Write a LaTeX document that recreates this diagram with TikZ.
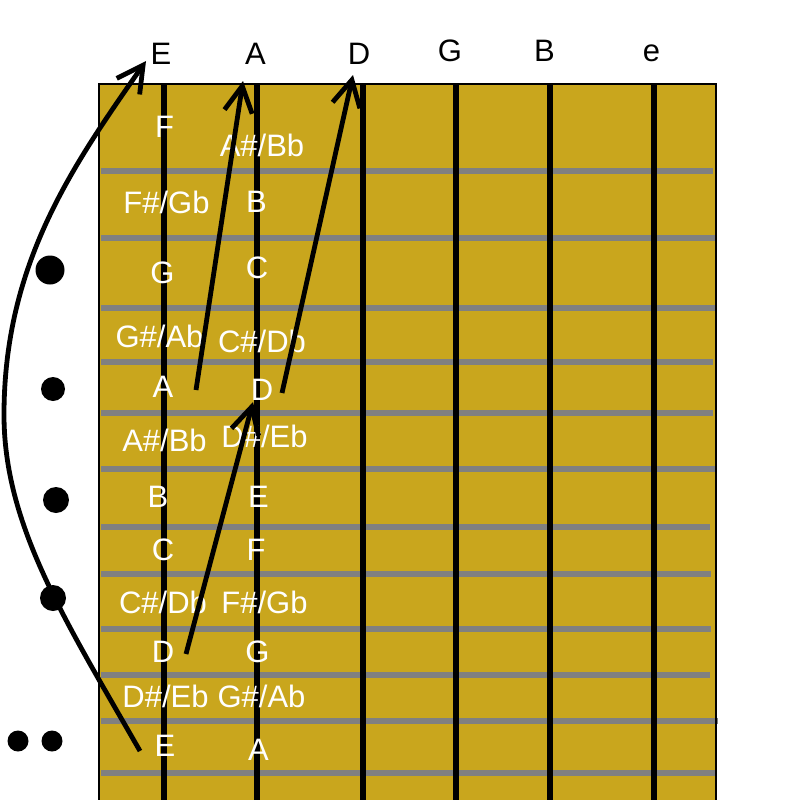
\documentclass[tikz,border=0pt]{standalone}
\usepackage{fontspec}
\setmainfont{Liberation Sans}
\usetikzlibrary{positioning,arrows.meta}

\definecolor{fretboard}{RGB}{201,166,29}
\definecolor{fretgray}{RGB}{128,128,128}

\begin{document}
\begin{tikzpicture}[
  x=1pt, y=-1pt,
  note/.style={text=white, anchor=base, inner sep=0pt, font=\fontsize{31}{31}\selectfont},
  open/.style={text=black, anchor=base, inner sep=0pt, font=\fontsize{31}{31}\selectfont},
  marker/.style={circle, fill=black, inner sep=0pt},
  fret/.style={draw=fretgray, line width=5.5pt},
  strg/.style={draw=black, line width=6pt},
  move/.style={draw=black, line width=4.8pt, -{Straight Barb[length=26pt,width=28pt]}}
]
\useasboundingbox (0,0) rectangle (800,800);

% board
\fill[fretboard] (99,84) rectangle (716,800);
\foreach \y/\xe in {171/713,238/716,308/716,362/713,413/713,469/716,527/710,574/711,629/711,675/710,721/718,773/716}
  \draw[fret] (101,\y) -- (\xe,\y);
\foreach \x in {164,257,363,456,550,654}
  \draw[strg] (\x,84) -- (\x,800);
\draw[line width=2.5pt] (99,800) -- (99,84) -- (716,84) -- (716,800);

% open strings
\node[open] (openE) at (161,64) {E};
\node[open] (openA) at (255.5,64) {A};
\node[open] (openD) at (359,64) {D};
\node[open] (openG) at (450,62) {G};
\node[open] (openB) at (544.5,62) {B};
\node[open] (opene) at (651.5,62) {e};

% low E string
\node[note] (e1) at (164.5,137) {F};
\node[note] (e2) at (166.5,213) {F\#/Gb};
\node[note] (e3) at (162.5,283) {G};
\node[note] (e4) at (159.5,347) {G\#/Ab};
\node[note] (e5) at (163,397) {A};
\node[note] (e6) at (164.5,451) {A\#/Bb};
\node[note] (e7) at (158,507) {B};
\node[note] (e8) at (163,560) {C};
\node[note] (e9) at (163,613) {C\#/Db};
\node[note] (e10) at (163,662) {D};
\node[note] (e11) at (165.5,707) {D\#/Eb};
\node[note] (e12) at (165,756) {E};

% A string
\node[note] (a1) at (262,156) {A\#/Bb};
\node[note] (a2) at (256.5,212) {B};
\node[note] (a3) at (257,278) {C};
\node[note] (a4) at (262,352) {C\#/Db};
\node[note] (a5) at (262,400) {D};
\node[note] (a6) at (264.5,447) {D\#/Eb};
\node[note] (a7) at (258.5,507) {E};
\node[note] (a8) at (256,560) {F};
\node[note] (a9) at (264.5,613) {F\#/Gb};
\node[note] (a10) at (257.5,662) {G};
\node[note] (a11) at (261.5,707) {G\#/Ab};
\node[note] (a12) at (258.5,760) {A};

% fret markers
\node[marker, minimum size=29pt] (dot3) at (50,270) {};
\node[marker, minimum size=24pt] (dot5) at (53,389) {};
\node[marker, minimum size=26pt] (dot7) at (56,500) {};
\node[marker, minimum size=26pt] (dot9) at (53,598) {};
\node[marker, minimum size=21pt] (dot12a) at (18,741) {};
\node[marker, minimum size=21pt] (dot12b) at (52,741) {};

% arrow ends
\coordinate (eFoot) at (140,751);
\coordinate (eBend) at (4,415);
\coordinate (eHead) at (146,61);
\coordinate (aFoot) at (196,390);
\coordinate (aHead) at (243,81);
\coordinate (dFoot) at (282,393);
\coordinate (dHead) at (353,75);
\coordinate (dLowFoot) at (186,654);
\coordinate (dLowHead) at (253,402);

\draw[move] (eFoot) .. controls (65,620) and (4,525) .. (eBend)
  .. controls (4,265) and (71,168) .. (eHead);

\path
% same note, next string
(aFoot) edge[move] (aHead)
(dFoot) edge[move] (dHead)
(dLowFoot) edge[move] (dLowHead)
;

\end{tikzpicture}
\end{document}
